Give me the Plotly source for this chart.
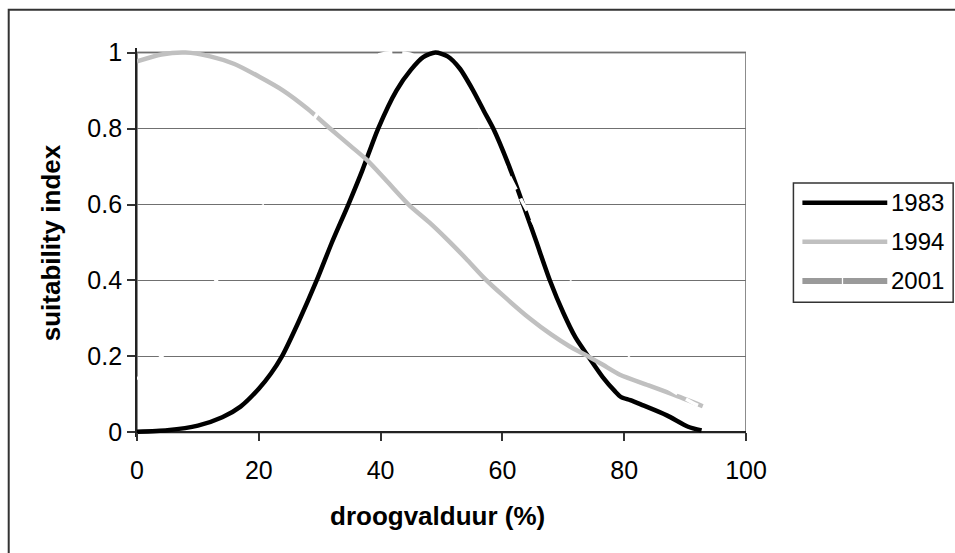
import plotly.graph_objects as go

# ---------------- data ----------------
x_1983 = [0, 5, 10, 14, 17, 20, 22, 23.8, 26.5, 29.5, 32, 34.7, 37, 39.6, 42.6, 45, 47, 49, 51,
          53, 55.2, 57, 58.5, 61, 63.4, 65.5, 67.8, 70, 72, 74.1, 76.5, 78.5, 79.5, 81, 83, 87,
          90.5, 92.7]
y_1983 = [0.002, 0.006, 0.018, 0.04, 0.068, 0.115, 0.155, 0.2, 0.29, 0.4, 0.5, 0.6, 0.69, 0.8,
          0.9, 0.955, 0.988, 1.0, 0.99, 0.958, 0.9, 0.845, 0.8, 0.705, 0.6, 0.505, 0.4, 0.315,
          0.25, 0.2, 0.145, 0.108, 0.093, 0.085, 0.072, 0.045, 0.015, 0.005]

x_1994 = [0, 4, 8, 12, 16, 20, 24, 28, 31.7, 35, 37.7, 41, 44.6, 48, 51, 54, 57.1, 60, 64.5, 68,
          71, 74.1, 76.5, 79.3, 84, 88, 92.9]
y_1994 = [0.977, 0.995, 1.0, 0.99, 0.97, 0.937, 0.9, 0.852, 0.8, 0.755, 0.718, 0.662, 0.6, 0.553,
          0.507, 0.458, 0.405, 0.362, 0.3, 0.258, 0.227, 0.2, 0.178, 0.152, 0.124, 0.1, 0.069]

x_2001 = [0, 4, 8, 13, 17, 20.5, 24, 28, 31, 35, 39, 42, 45, 47, 50, 53, 56.5, 60, 63.5, 67, 71,
          75, 80.5, 86, 91, 93]
y_2001 = [0.14, 0.2, 0.28, 0.4, 0.5, 0.6, 0.7, 0.8, 0.87, 0.94, 0.99, 1.0, 0.995, 0.975, 0.93,
          0.87, 0.8, 0.71, 0.6, 0.5, 0.4, 0.3, 0.2, 0.13, 0.08, 0.065]

series_names = ["1983", "1994", "2001"]
x_ticks = [0, 20, 40, 60, 80, 100]
y_ticks = [0, 0.2, 0.4, 0.6, 0.8, 1]
y_ticklabels = ["0", "0.2", "0.4", "0.6", "0.8", "1"]
x_title = "droogvalduur (%)"
y_title = "suitability index"

# ---------------- layout geometry (pixels) ----------------
W, H = 955, 553
L, R = 136.5, 746.5          # plot area x-extent (data 0..100)
Y1, Y0 = 52.7, 432.0         # data y=1 and y=0 pixel rows
pad = 0.012                  # small y-range pad so peak lines are not clipped
ppu = (Y0 - Y1)
T = Y1 - pad * ppu
B = Y0 + pad * ppu


def px(p):
    return (p - L) / (R - L)


def py(p):
    return (B - p) / (B - T)


FONT = "Arial, 'Liberation Sans', sans-serif"
FS_TICK = 25
FS_TITLE = 26
FS_LEG = 24

fig = go.Figure()
fig.add_trace(go.Scatter(x=x_1983, y=y_1983, mode="lines", name=series_names[0],
                         line=dict(color="#000000", width=4.5, shape="spline", smoothing=0.7),
                         showlegend=False))
fig.add_trace(go.Scatter(x=x_1994, y=y_1994, mode="lines", name=series_names[1],
                         line=dict(color="#c0c0c0", width=4.5, shape="spline", smoothing=0.7),
                         showlegend=False))
fig.add_trace(go.Scatter(x=x_2001, y=y_2001, mode="lines", name=series_names[2],
                         line=dict(color="#ffffff", width=3.5, dash="14px,10px",
                                   shape="spline", smoothing=0.7),
                         showlegend=False))

shapes = []
shapes.append(dict(type="rect", xref="x", yref="y", x0=0, x1=100, y0=0, y1=1,
                   line=dict(color="#8c8c8c", width=2), layer="below"))
shapes.append(dict(type="rect", xref="paper", yref="paper", x0=px(8), x1=px(970),
                   y0=py(10), y1=py(570), line=dict(color="#333333", width=2)))
lg_l, lg_r, lg_t, lg_b = 794, 954, 183, 302
shapes.append(dict(type="rect", xref="paper", yref="paper", x0=px(lg_l), x1=px(lg_r),
                   y0=py(lg_t), y1=py(lg_b), line=dict(color="#333333", width=1.5),
                   fillcolor="white"))
leg_rows = [202.7, 241.7, 280.7]
shapes.append(dict(type="line", xref="paper", yref="paper", x0=px(803), x1=px(888),
                   y0=py(leg_rows[0]), y1=py(leg_rows[0]),
                   line=dict(color="#000000", width=4.5)))
shapes.append(dict(type="line", xref="paper", yref="paper", x0=px(803), x1=px(888),
                   y0=py(leg_rows[1]), y1=py(leg_rows[1]),
                   line=dict(color="#c0c0c0", width=4.5)))
for a, b2 in [(803, 842.5), (843.8, 888)]:
    shapes.append(dict(type="line", xref="paper", yref="paper", x0=px(a), x1=px(b2),
                       y0=py(leg_rows[2]), y1=py(leg_rows[2]),
                       line=dict(color="#9a9a9a", width=6)))

annotations = []
for name, row in zip(series_names, leg_rows):
    annotations.append(dict(text=name, xref="paper", yref="paper", x=px(890), y=py(row),
                            xanchor="left", yanchor="middle", showarrow=False,
                            font=dict(family=FONT, size=FS_LEG, color="black")))
annotations.append(dict(text="<b>" + x_title + "</b>", xref="paper", yref="paper",
                        x=px(437), y=py(515), xanchor="center", yanchor="middle",
                        showarrow=False, font=dict(family=FONT, size=FS_TITLE, color="black")))
annotations.append(dict(text="<b>" + y_title + "</b>", xref="paper", yref="paper",
                        x=px(50), y=py(242.5), xanchor="center", yanchor="middle",
                        textangle=-90, showarrow=False,
                        font=dict(family=FONT, size=FS_TITLE, color="black")))

fig.update_layout(
    width=W, height=H,
    margin=dict(l=L, r=W - R, t=T, b=H - B, autoexpand=False),
    paper_bgcolor="white", plot_bgcolor="white",
    showlegend=False,
    shapes=shapes, annotations=annotations,
    xaxis=dict(range=[0, 100], tickvals=x_ticks, ticks="outside", ticklen=8,
               tickcolor="#333333", tickwidth=1.5, showgrid=False, zeroline=False,
               showline=False, anchor="free", position=pad / (1 + 2 * pad),
               ticklabelstandoff=8,
               tickfont=dict(family=FONT, size=FS_TICK, color="black")),
    yaxis=dict(range=[-pad, 1 + pad], tickvals=y_ticks, ticktext=y_ticklabels,
               ticks="outside", ticklen=8, tickcolor="#333333", tickwidth=1.5,
               showgrid=True, gridcolor="#707070", gridwidth=1.3,
               zeroline=True, zerolinecolor="#222222", zerolinewidth=1.8,
               showline=True, linecolor="#222222", linewidth=1.8,
               tickfont=dict(family=FONT, size=FS_TICK, color="black")),
)

fig.write_html("out.html")
